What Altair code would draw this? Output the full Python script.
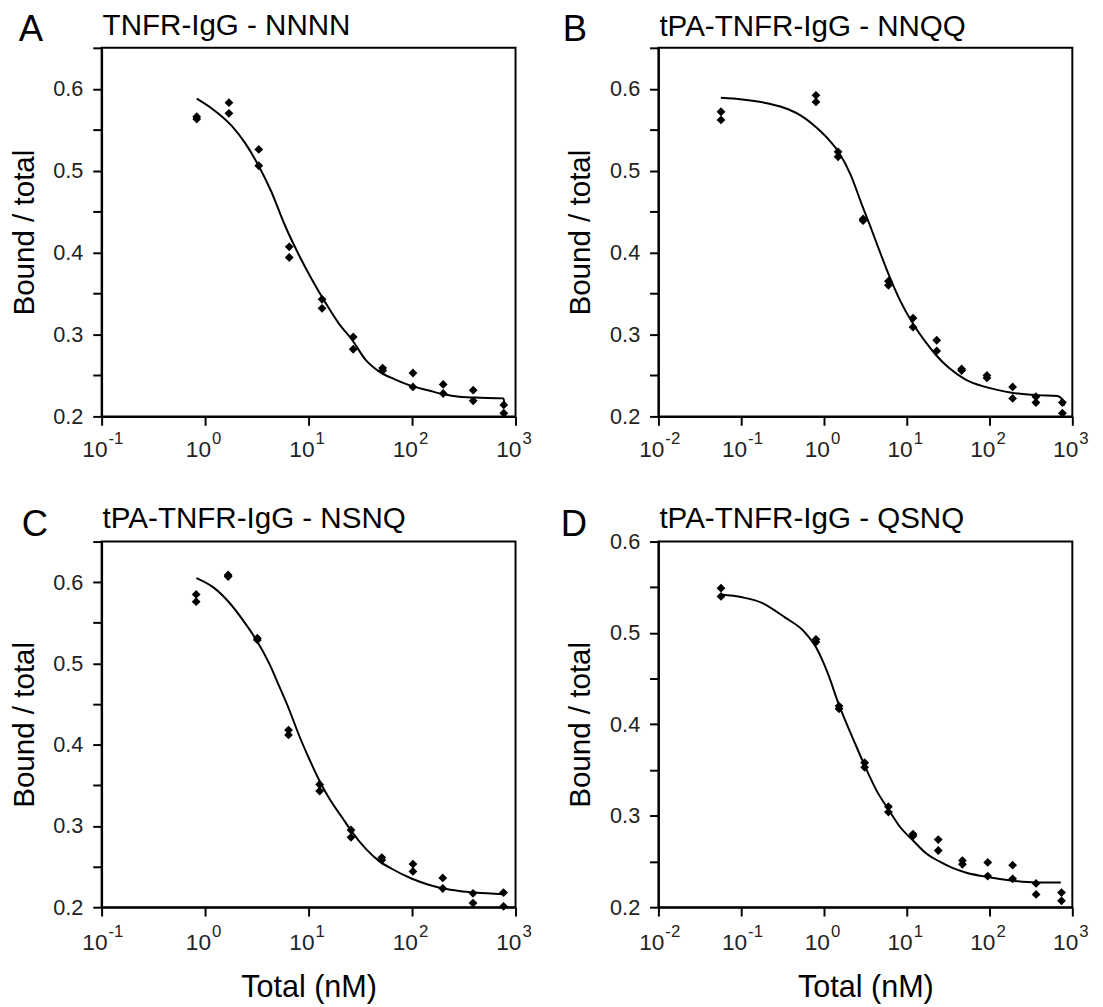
import altair as alt
import pandas as pd

# ---------------- data ----------------
# Panel A: TNFR-IgG - NNNN
a_conc = [0.83, 1.7, 3.3, 6.5, 13.5, 27, 52, 102, 200, 390, 770]
a_rep1 = [0.566, 0.583, 0.526, 0.407, 0.343, 0.297, 0.259, 0.253, 0.239, 0.232, 0.214]
a_rep2 = [0.563, 0.570, 0.506, 0.394, 0.332, 0.282, 0.256, 0.236, 0.228, 0.219, 0.204]
a_fit_x = [0.83, 1.16, 1.80, 2.43, 3.26, 4.38, 5.87, 8.0, 10.9, 14.7, 19.7, 26.5,
           35.6, 47.8, 69.2, 100, 142, 202, 286, 407, 766, 780]
a_fit_y = [0.588, 0.576, 0.555, 0.534, 0.507, 0.474, 0.434, 0.398, 0.366, 0.338, 0.313, 0.293,
           0.269, 0.255, 0.245, 0.237, 0.232, 0.227, 0.224, 0.223, 0.222, 0.216]

# Panel B: tPA-TNFR-IgG - NNQQ
b_conc = [0.057, 0.80, 1.48, 2.97, 6.0, 11.9, 23, 46, 93, 190, 363, 759]
b_rep1 = [0.572, 0.592, 0.523, 0.441, 0.365, 0.320, 0.293, 0.258, 0.250, 0.236, 0.224, 0.217]
b_rep2 = [0.562, 0.584, 0.517, 0.439, 0.360, 0.309, 0.280, 0.256, 0.247, 0.222, 0.217, 0.204]
b_fit_x = [0.0568, 0.103, 0.213, 0.369, 0.532, 0.804, 1.21, 1.52, 2.10, 2.88, 3.63, 4.77, 6.0,
           8.26, 11.9, 17.1, 22.5, 32.5, 51.3, 88.8, 185, 383, 662, 760, 796]
b_fit_y = [0.589, 0.587, 0.582, 0.575, 0.567, 0.553, 0.535, 0.522, 0.495, 0.458, 0.432, 0.400, 0.374,
           0.342, 0.313, 0.290, 0.275, 0.259, 0.245, 0.236, 0.229, 0.226, 0.225, 0.220, 0.213]

# Panel C: tPA-TNFR-IgG - NSNQ
c_conc = [0.82, 1.67, 3.2, 6.4, 12.8, 25.7, 51, 102, 198, 388, 766]
c_rep1 = [0.585, 0.609, 0.531, 0.418, 0.351, 0.295, 0.261, 0.253, 0.236, 0.217, 0.218]
c_rep2 = [0.576, 0.607, 0.529, 0.412, 0.343, 0.286, 0.258, 0.244, 0.223, 0.205, 0.201]
c_fit_x = [0.824, 1.22, 1.71, 2.30, 3.09, 4.16, 5.20, 6.50, 8.12, 10.1, 12.7, 15.8, 21.2, 26.5,
           35.6, 47.8, 64.2, 100, 142, 202, 286, 407, 766]
c_fit_y = [0.605, 0.593, 0.575, 0.554, 0.530, 0.500, 0.472, 0.443, 0.411, 0.383, 0.356, 0.334,
           0.310, 0.292, 0.272, 0.257, 0.247, 0.235, 0.228, 0.223, 0.220, 0.218, 0.216]

# Panel D: tPA-TNFR-IgG - QSNQ
d_conc = [0.057, 0.80, 1.52, 3.1, 6.0, 11.9, 24, 47, 95, 190, 365, 740]
d_rep1 = [0.549, 0.493, 0.420, 0.358, 0.310, 0.280, 0.274, 0.251, 0.249, 0.246, 0.226, 0.216]
d_rep2 = [0.540, 0.490, 0.417, 0.353, 0.304, 0.278, 0.262, 0.247, 0.234, 0.231, 0.214, 0.207]
d_fit_x = [0.0568, 0.103, 0.178, 0.337, 0.583, 0.804, 1.11, 1.52, 2.30, 3.10, 4.35, 6.0, 8.26,
           11.9, 17.1, 24.7, 35.6, 51.3, 94.6, 190, 366, 726]
d_fit_y = [0.542, 0.539, 0.533, 0.517, 0.501, 0.484, 0.456, 0.421, 0.382, 0.355, 0.327, 0.307, 0.288,
           0.273, 0.259, 0.250, 0.243, 0.238, 0.233, 0.229, 0.227, 0.227]

# axis ticks / labels
x_ticks_3 = [0.1, 1, 10, 100, 1000]
x_exps_3 = ["-1", "0", "1", "2", "3"]
x_ticks_5 = [0.01, 0.1, 1, 10, 100, 1000]
x_exps_5 = ["-2", "-1", "0", "1", "2", "3"]
y_ticks_hi = [0.2, 0.25, 0.3, 0.35, 0.4, 0.45, 0.5, 0.55, 0.6, 0.65]
y_ticks_lo = [0.2, 0.25, 0.3, 0.35, 0.4, 0.45, 0.5, 0.55, 0.6]

FONT = "Liberation Sans, Arial, Helvetica, sans-serif"
W = 420


def panel(letter, name, conc, rep1, rep2, fx, fy, xt, xe, yt, height, xtitle,
          letter_dx, letter_dy, name_dy, lab_dy):
    pts = pd.DataFrame({"conc": list(conc) + list(conc), "bt": list(rep1) + list(rep2)})
    fit = pd.DataFrame({"conc": fx, "bt": fy})
    ticks = pd.DataFrame({"conc": xt, "exp": xe})
    head = pd.DataFrame({"letter": [letter], "name": [name]})

    xaxis = alt.Axis(values=xt, labels=False, tickSize=9, tickWidth=2, tickColor="black",
                     domainWidth=2, domainColor="black", grid=False, title=xtitle,
                     titleFontSize=31, titleFontWeight="normal", titleFont=FONT,
                     titleColor="black", titlePadding=57)
    x_enc = alt.X("conc:Q", scale=alt.Scale(type="log", domain=[xt[0], xt[-1]], nice=False),
                  axis=xaxis)
    yaxis = alt.Axis(values=yt, tickSize=9, tickWidth=2, tickColor="black", domainWidth=2,
                     domainColor="black", grid=False,
                     labelExpr="abs(datum.value*10 - round(datum.value*10)) < 0.001 ? format(datum.value, '.1f') : ''",
                     labelFontSize=22, labelFont=FONT, labelColor="#222", labelPadding=10,
                     title="Bound / total", titleFontSize=30, titleFontWeight="normal",
                     titleFont=FONT, titleColor="black", titlePadding=14)
    y_enc = alt.Y("bt:Q", scale=alt.Scale(domain=[yt[0], yt[-1]], nice=False, zero=False),
                  axis=yaxis)

    line = alt.Chart(fit).mark_line(color="black", strokeWidth=2, interpolate="monotone").encode(
        x=x_enc, y=y_enc)
    dots = alt.Chart(pts).mark_point(shape="diamond", filled=True, size=80, color="black",
                                     opacity=1).encode(x=x_enc, y=y_enc)
    ten = alt.Chart(ticks).mark_text(align="right", baseline="alphabetic", fontSize=23, dx=6,
                                     font=FONT, color="#222").encode(
        x=x_enc, y=alt.value(height + lab_dy), text=alt.value("10"))
    ex = alt.Chart(ticks).mark_text(align="left", baseline="alphabetic", fontSize=17, dx=7,
                                    font=FONT, color="#222").encode(
        x=x_enc, y=alt.value(height + lab_dy - 13), text="exp:N")
    lt = alt.Chart(head).mark_text(align="left", baseline="alphabetic", fontSize=37,
                                   font=FONT, color="black").encode(
        x=alt.value(letter_dx), y=alt.value(letter_dy), text="letter:N")
    nt = alt.Chart(head).mark_text(align="left", baseline="alphabetic", fontSize=30,
                                   font=FONT, color="black").encode(
        x=alt.value(1), y=alt.value(name_dy), text="name:N")
    return alt.layer(line, dots, ten, ex, lt, nt).properties(width=W, height=height)


pA = panel("A", "TNFR-IgG - NNNN", a_conc, a_rep1, a_rep2, a_fit_x, a_fit_y,
           x_ticks_3, x_exps_3, y_ticks_hi, 374, None, -84, -7, -13, 41)
pB = panel("B", "tPA-TNFR-IgG - NNQQ", b_conc, b_rep1, b_rep2, b_fit_x, b_fit_y,
           x_ticks_5, x_exps_5, y_ticks_hi, 374, None, -97, -7, -12, 41)
pC = panel("C", "tPA-TNFR-IgG - NSNQ", c_conc, c_rep1, c_rep2, c_fit_x, c_fit_y,
           x_ticks_3, x_exps_3, y_ticks_hi, 371, "Total (nM)", -81, -6, -14, 43)
pD = panel("D", "tPA-TNFR-IgG - QSNQ", d_conc, d_rep1, d_rep2, d_fit_x, d_fit_y,
           x_ticks_5, x_exps_5, y_ticks_lo, 371, "Total (nM)", -99, -6, -14, 43)

chart = alt.concat(pA, pB, pC, pD, columns=2, spacing={"row": 127, "column": 145},
                   bounds="flush").properties(
    padding={"left": 0, "top": -5, "right": 5, "bottom": 5},
    background="white",
).configure_view(stroke="black", strokeWidth=2)

chart.save("out.html", embed_options={"renderer": "svg", "actions": False})
